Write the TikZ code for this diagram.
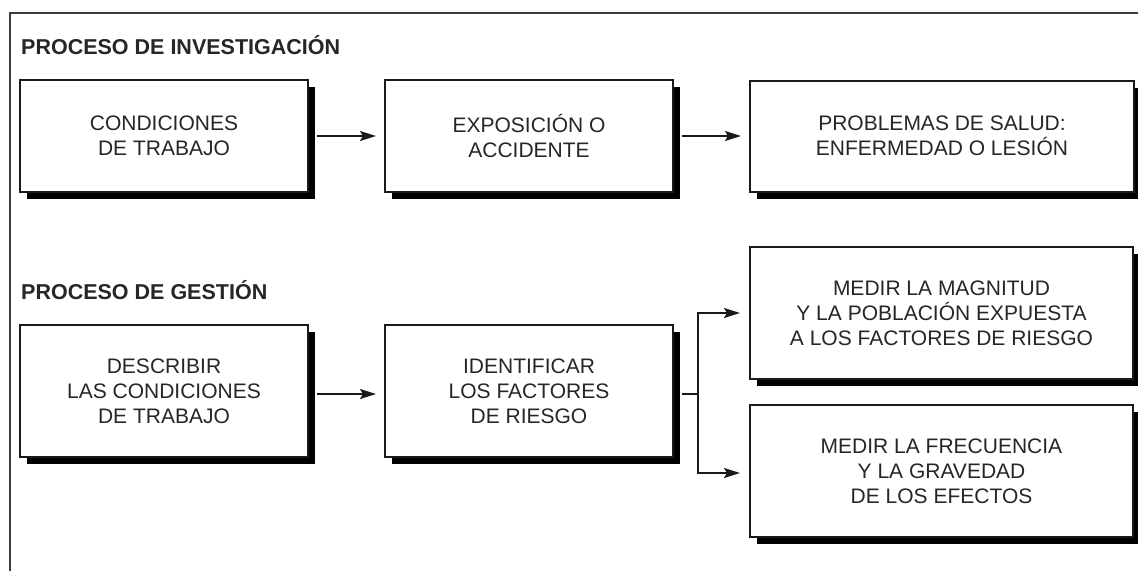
\documentclass[tikz,border=0pt]{standalone}
\usepackage{fontspec}
\setmainfont{Liberation Sans}
\usetikzlibrary{arrows.meta,shadows}
\definecolor{txt}{HTML}{262626}
\definecolor{ln}{HTML}{1A1A1A}
\tikzset{
  box/.style={draw=ln, line width=2pt, fill=white, rectangle, inner sep=0pt,
    align=center, text=txt, font=\fontsize{21}{25}\selectfont,
    drop shadow={shadow xshift=7pt, shadow yshift=-7pt, fill=black, opacity=1}},
  head/.style={anchor=west, inner sep=0pt, text=txt, font=\fontsize{21.5}{24}\selectfont\bfseries},
  conn/.style={draw=ln, line width=1.6pt},
  arr/.style={conn, -{Stealth[length=16pt,width=10pt,inset=3pt]}},
  frame/.style={draw=ln!85, line width=2pt}
}
\begin{document}
\begin{tikzpicture}[x=1pt,y=-1pt]
\useasboundingbox (0,0) rectangle (1138,571);
\fill[white] (0,0) rectangle (1138,571);
\draw[frame] (10,571) -- (10,13) -- (1138,13);

\node[head] (h1) at (21,45) {PROCESO DE INVESTIGACIÓN};
\node[head] (h2) at (21,290) {PROCESO DE GESTIÓN};

\node[box, minimum width=288pt, minimum height=112pt] (b1) at (164,136) {CONDICIONES\\DE TRABAJO};
\node[box, minimum width=288pt, minimum height=112pt] (b2) at (529,136) {EXPOSICIÓN O\\ACCIDENTE};
\node[box, minimum width=384pt, minimum height=111pt] (b3) at (942,136) {PROBLEMAS DE SALUD:\\ENFERMEDAD O LESIÓN};

\node[box, minimum width=288pt, minimum height=132pt] (b4) at (164,391) {DESCRIBIR\\LAS CONDICIONES\\DE TRABAJO};
\node[box, minimum width=288pt, minimum height=132pt] (b5) at (529,391) {IDENTIFICAR\\LOS FACTORES\\DE RIESGO};
\node[box, minimum width=383pt, minimum height=132pt] (b6) at (941.5,313) {MEDIR LA MAGNITUD\\Y LA POBLACIÓN EXPUESTA\\A LOS FACTORES DE RIESGO};
\node[box, minimum width=383pt, minimum height=132pt] (b7) at (941.5,471) {MEDIR LA FRECUENCIA\\Y LA GRAVEDAD\\DE LOS EFECTOS};

\draw[arr] ([xshift=8pt]b1.east) -- ([xshift=-8pt]b2.west);
\draw[arr] ([xshift=8pt]b2.east) -- ([xshift=-8pt]b3.west);
\draw[arr] ([xshift=8pt,yshift=-3pt]b4.east) -- ([xshift=-8pt,yshift=-3pt]b5.west);

\coordinate (br) at (698,394);
\draw[conn] ([xshift=8pt]b5.east |- br) -- (br);
\draw[arr] (br) |- ([xshift=-9pt]b6.west);
\draw[arr] (br) |- ([xshift=-9pt,yshift=-2pt]b7.west);
\end{tikzpicture}
\end{document}
